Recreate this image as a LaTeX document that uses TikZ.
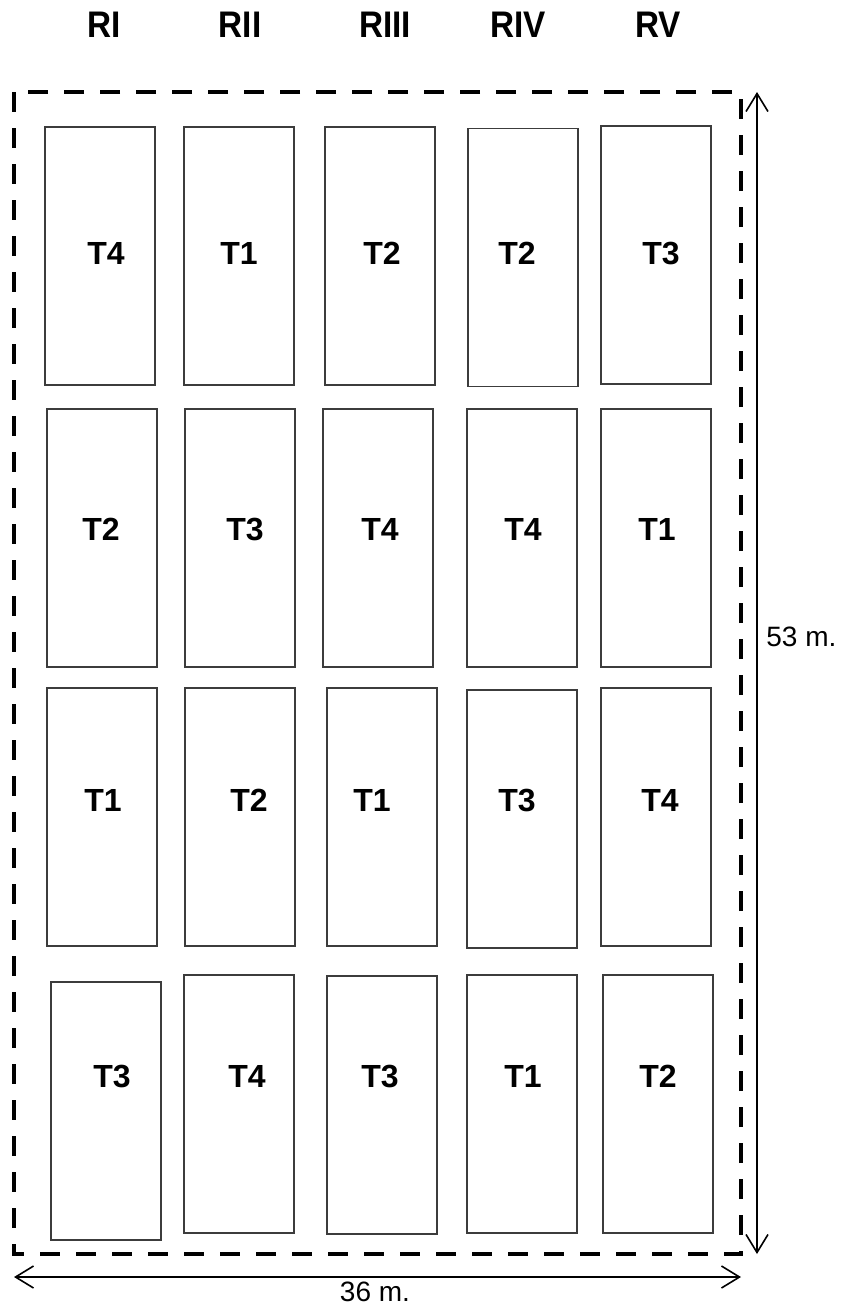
\documentclass[tikz,border=0pt]{standalone}
\usepackage{fontspec}
\setmainfont{Liberation Sans}
\usetikzlibrary{arrows.meta}
\definecolor{PlotEdge}{HTML}{3C3C3C}
\definecolor{FieldEdge}{HTML}{000000}

\begin{document}
\begin{tikzpicture}[
    x=0.5pt,y=-0.5pt,
    plot/.style={draw=PlotEdge,line width=0.8pt,minimum width=55pt,minimum height=129pt,inner sep=0pt},
    tag/.style={font=\fontsize{16}{18}\selectfont\bfseries},
    rephead/.style={font=\fontsize{18.5}{20}\selectfont\bfseries,xscale=0.9},
    dimtext/.style={font=\fontsize{14}{16}\selectfont,inner sep=1pt},
    field/.style={draw=FieldEdge,line width=2pt,dash pattern=on 10pt off 8pt},
    dimline/.style={line width=0.8pt,{Straight Barb[length=9pt,width=11pt]}-{Straight Barb[length=9pt,width=11pt]}}
  ]
    \useasboundingbox (0,0) rectangle (841,1308);
    % replicates
    \node[rephead] (h1) at (104,25) {RI};
    \node[rephead] (h2) at (240,25) {RII};
    \node[rephead] (h3) at (385,25) {RIII};
    \node[rephead] (h4) at (518,25) {RIV};
    \node[rephead] (h5) at (658,25) {RV};
    % field outline
    \draw[field] (14,92) rectangle (741,1254);
    % row 1
    \node[plot] (p11) at (100,256) {}; \node[tag] (t11) at (106,253) {T4};
    \node[plot] (p12) at (239,256) {}; \node[tag] (t12) at (239,253) {T1};
    \node[plot] (p13) at (380,256) {}; \node[tag] (t13) at (382,253) {T2};
    \node[plot] (p14) at (523,257.5) {}; \node[tag] (t14) at (517,253) {T2};
    \node[plot] (p15) at (656,255) {}; \node[tag] (t15) at (661,253) {T3};
    % row 2
    \node[plot] (p21) at (102,538) {}; \node[tag] (t21) at (101,529) {T2};
    \node[plot] (p22) at (240,538) {}; \node[tag] (t22) at (245,529) {T3};
    \node[plot] (p23) at (378,538) {}; \node[tag] (t23) at (380,529) {T4};
    \node[plot] (p24) at (522,538) {}; \node[tag] (t24) at (523,529) {T4};
    \node[plot] (p25) at (656,538) {}; \node[tag] (t25) at (657,529) {T1};
    % row 3
    \node[plot] (p31) at (102,817) {}; \node[tag] (t31) at (103,800) {T1};
    \node[plot] (p32) at (240,817) {}; \node[tag] (t32) at (249,800) {T2};
    \node[plot] (p33) at (382,817) {}; \node[tag] (t33) at (372,800) {T1};
    \node[plot] (p34) at (522,819) {}; \node[tag] (t34) at (517,800) {T3};
    \node[plot] (p35) at (656,817) {}; \node[tag] (t35) at (660,800) {T4};
    % row 4
    \node[plot] (p41) at (106,1111) {}; \node[tag] (t41) at (112,1076) {T3};
    \node[plot] (p42) at (239,1104) {}; \node[tag] (t42) at (247,1076) {T4};
    \node[plot] (p43) at (382,1105) {}; \node[tag] (t43) at (380,1076) {T3};
    \node[plot] (p44) at (522,1104) {}; \node[tag] (t44) at (523,1076) {T1};
    \node[plot] (p45) at (658,1104) {}; \node[tag] (t45) at (658,1076) {T2};
    % dimensions
    \coordinate (ytop) at (757,92);
    \coordinate (ybot) at (757,1254);
    \coordinate (xleft) at (14,1277);
    \coordinate (xright) at (741,1277);
    \draw[dimline] (ytop) -- (ybot);
    \draw[dimline] (xleft) -- (xright);
    \node[dimtext,anchor=west] (len) at (764,637) {53 m.};
    \node[dimtext] (wid) at (375,1292) {36 m.};
  \end{tikzpicture}
\end{document}
